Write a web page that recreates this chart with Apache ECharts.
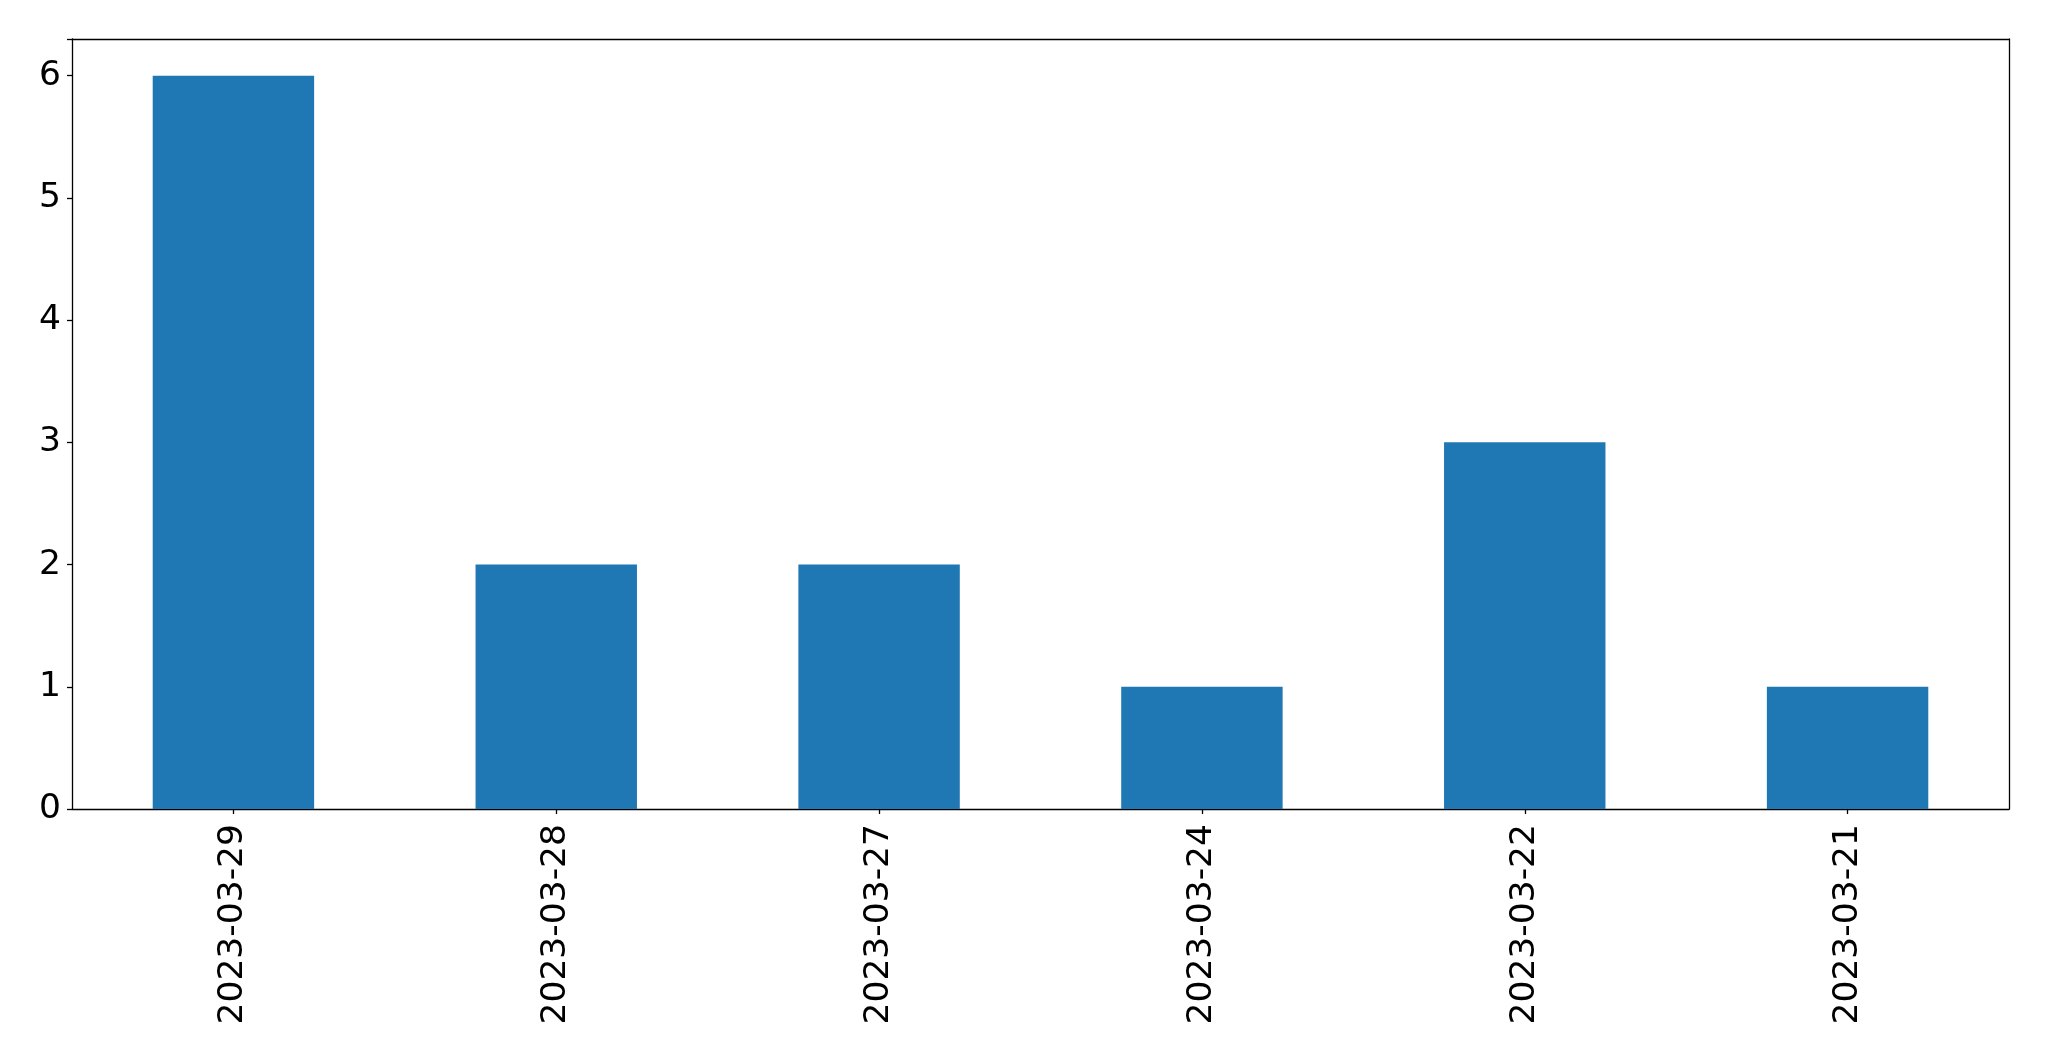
<!DOCTYPE html>
<html>
<head>
<meta charset="utf-8">
<script src="https://cdn.jsdelivr.net/npm/echarts@6/dist/echarts.min.js"></script>
<style>
html,body{margin:0;padding:0;background:#fff;}
#chart{width:2049px;height:1061px;}
</style>
</head>
<body>
<div id="chart"></div>
<script>
const categories = ['2023-03-29','2023-03-28','2023-03-27','2023-03-24','2023-03-22','2023-03-21'];
const values = [6, 2, 2, 1, 3, 1];
const yTicks = [0, 1, 2, 3, 4, 5, 6];

const chart = echarts.init(document.getElementById('chart'), null, {renderer:'canvas'});
const font = 'DejaVu Sans';
const axisLine = {show:true, onZero:false, lineStyle:{color:'#000', width:1.3}};
chart.setOption({
  animation:false,
  backgroundColor:'#fff',
  grid:{left:72, right:40, top:39, bottom:252, containLabel:false},
  xAxis:[{
    type:'category', data:categories,
    axisLine:axisLine,
    axisTick:{show:true, alignWithLabel:true, length:5, lineStyle:{color:'#000', width:1.3}},
    axisLabel:{rotate:90, fontFamily:font, fontSize:34.5, color:'#000', margin:15, interval:0},
    splitLine:{show:false}
  },{
    type:'category', position:'top', data:categories,
    axisLine:axisLine, axisTick:{show:false}, axisLabel:{show:false}
  }],
  yAxis:[{
    type:'value', min:0, max:6.3, interval:1,
    axisLine:axisLine,
    axisTick:{show:true, length:5, lineStyle:{color:'#000', width:1.3}},
    axisLabel:{fontFamily:font, fontSize:34.5, color:'#000', margin:11, padding:[7,0,0,0],
      formatter:function(v){ return yTicks.indexOf(v) >= 0 ? String(v) : ''; }},
    splitLine:{show:false}
  },{
    type:'value', position:'right', min:0, max:6.3,
    axisLine:axisLine, axisTick:{show:false}, axisLabel:{show:false}, splitLine:{show:false}
  }],
  series:[{
    type:'bar', data:values, barWidth:'50%',
    itemStyle:{color:'#1f77b4'}
  }]
});
</script>
</body>
</html>
